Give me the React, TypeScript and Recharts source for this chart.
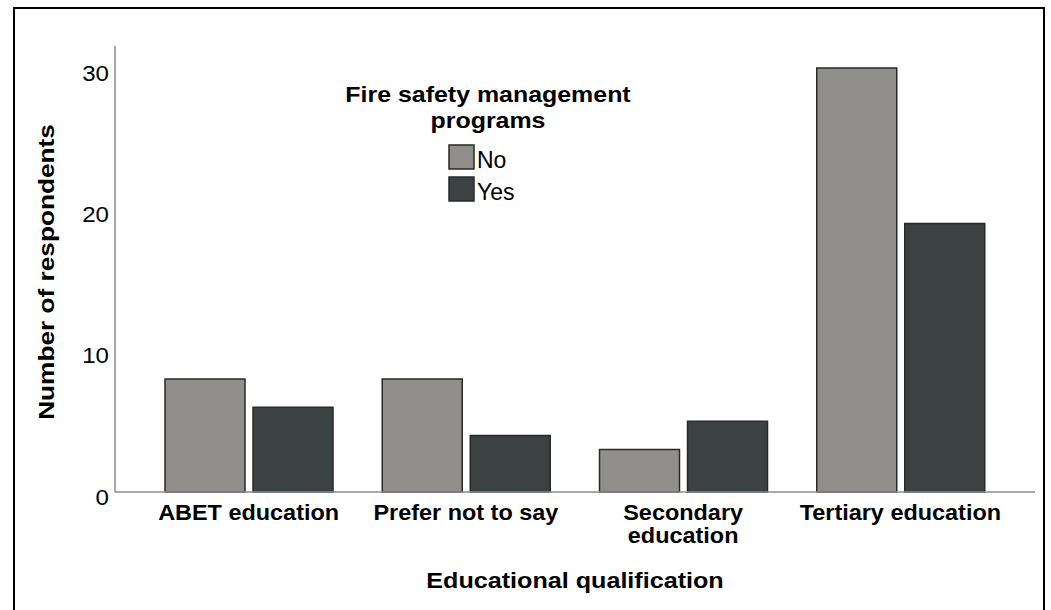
import { BarChart, Bar, XAxis, YAxis, Label } from 'recharts'

const categories = ['ABET education', 'Prefer not to say', 'Secondary education', 'Tertiary education']
// how SPSS broke the tick labels
const tickLines = [['ABET education'], ['Prefer not to say'], ['Secondary', 'education'], ['Tertiary education']]
const noValues = [8, 8, 3, 30]
const yesValues = [6, 4, 5, 19]
const yTicks = [0, 10, 20, 30]
const legendTitle = ['Fire safety management', 'programs']
const seriesNames = ['No', 'Yes']

const FONT = '"Liberation Sans", Arial, sans-serif'
const NO_COLOR = '#918f8b'
const YES_COLOR = '#3c4241'
const BAR_STROKE = '#2a2a2a'
const AXIS_COLOR = '#8c8c8c'

const data = categories.map((category, i) => ({
  category,
  no: noValues[i],
  yes: yesValues[i]
}))

function XTick({ x, y, payload }: any) {
  const lines = tickLines[categories.indexOf(payload.value)] ?? [payload.value]
  return (
    <g transform={`translate(${x},${y}) scale(1.08,1)`}>
      <text textAnchor="middle" fontFamily={FONT} fontWeight="bold" fontSize={21.7} fill="#000">
        {lines.map((line, i) => (
          <tspan key={i} x={0} y={28.5 + i * 22.5}>{line}</tspan>
        ))}
      </text>
    </g>
  )
}

function YTick({ x, y, payload }: any) {
  return (
    <g transform={`translate(${x},${y + 12.5}) scale(1.12,1)`}>
      <text textAnchor="end" fontFamily={FONT} fontSize={21.5} fill="#000">{payload.value}</text>
    </g>
  )
}

export default function App() {
  const legendColors = [NO_COLOR, YES_COLOR]
  return (
    <div style={{ position: 'absolute', left: 0, top: 0, width: 1051, height: 610, overflow: 'hidden', background: '#fff', fontFamily: FONT }}>
      {/* outer frame, bottom edge is cut off in the original */}
      <div style={{ position: 'absolute', left: 13, top: 7, width: 1032, height: 700, border: '2px solid #000', boxSizing: 'border-box' }} />

      <div style={{ position: 'absolute', left: 0, top: 0 }}>
        <BarChart width={1051} height={610} data={data} margin={{ top: 46, right: 16, bottom: 0, left: 0 }} barSize={80} barGap={8}>
          <XAxis
            dataKey="category"
            height={118}
            padding={{ left: 25, right: 26 }}
            axisLine={{ stroke: AXIS_COLOR, strokeWidth: 1.5 }}
            tickLine={false}
            tickSize={0}
            tickMargin={0}
            interval={0}
            tick={<XTick />}
          >
            <Label
              content={({ viewBox }: any) => (
                <g transform={`translate(${viewBox.x + viewBox.width / 2},${viewBox.y + 96}) scale(1.17,1)`}>
                  <text textAnchor="middle" fontFamily={FONT} fontWeight="bold" fontSize={21.5} fill="#000">Educational qualification</text>
                </g>
              )}
            />
          </XAxis>
          <YAxis
            width={115}
            domain={[0, 31.56]}
            ticks={yTicks}
            axisLine={{ stroke: AXIS_COLOR, strokeWidth: 1.5 }}
            tickLine={false}
            tickSize={0}
            tickMargin={6}
            tick={<YTick />}
          >
            <Label
              content={({ viewBox }: any) => (
                <g transform={`translate(54,${viewBox.y + viewBox.height / 2 + 3}) rotate(-90) scale(1.22,1)`}>
                  <text textAnchor="middle" fontFamily={FONT} fontWeight="bold" fontSize={21.5} fill="#000">Number of respondents</text>
                </g>
              )}
            />
          </YAxis>
          <Bar dataKey="no" name="No" fill={NO_COLOR} stroke={BAR_STROKE} strokeWidth={1.5} isAnimationActive={false} />
          <Bar dataKey="yes" name="Yes" fill={YES_COLOR} stroke={BAR_STROKE} strokeWidth={1.5} isAnimationActive={false} />
        </BarChart>
      </div>

      {/* legend sits inside the plot, drawn on top */}
      <svg width={1051} height={610} style={{ position: 'absolute', left: 0, top: 0, pointerEvents: 'none' }}>
        {legendTitle.map((line, i) => (
          <g key={line} transform={`translate(488,${102 + i * 25.5}) scale(1.16,1)`}>
            <text textAnchor="middle" fontFamily={FONT} fontWeight="bold" fontSize={21.5} fill="#000">{line}</text>
          </g>
        ))}
        {seriesNames.map((name, i) => (
          <g key={name}>
            <rect x={449} y={145 + i * 32} width={25} height={24} fill={legendColors[i]} stroke={BAR_STROKE} strokeWidth={1.5} />
            <text x={477} y={168 + i * 32} fontFamily={FONT} fontSize={23} fill="#000">{name}</text>
          </g>
        ))}
      </svg>
    </div>
  )
}
